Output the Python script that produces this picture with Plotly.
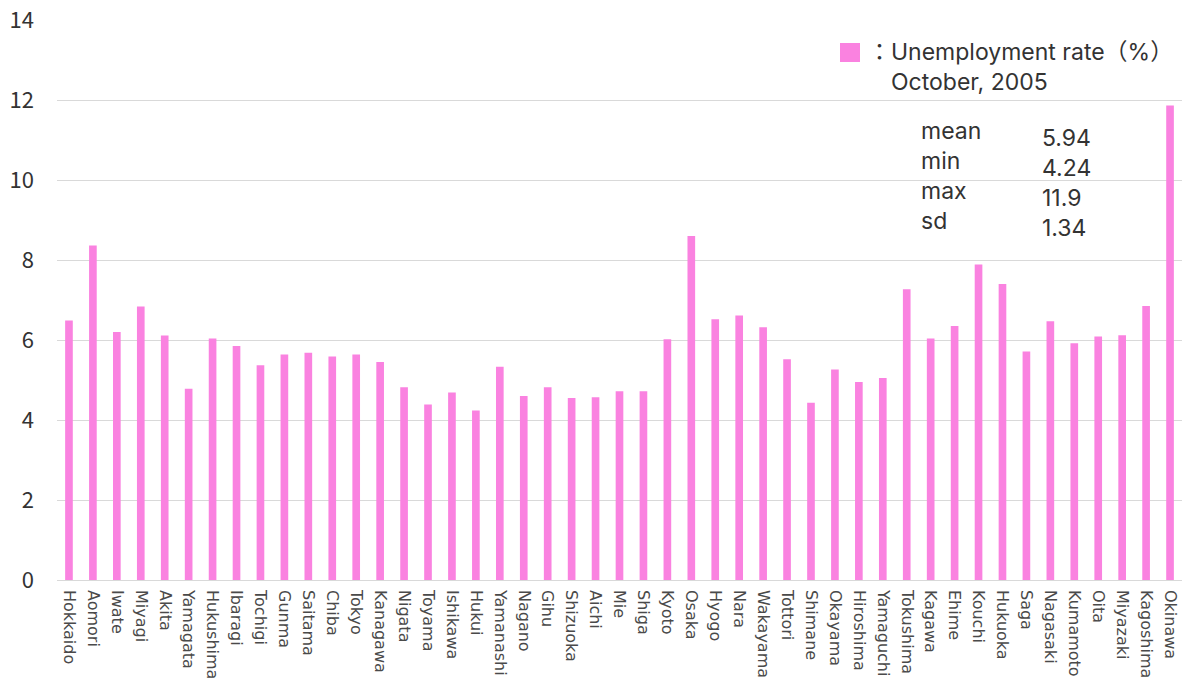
import plotly.graph_objects as go

prefectures = ["Hokkaido", "Aomori", "Iwate", "Miyagi", "Akita", "Yamagata", "Hukushima",
               "Ibaragi", "Tochigi", "Gunma", "Saitama", "Chiba", "Tokyo", "Kanagawa",
               "Nigata", "Toyama", "Ishikawa", "Hukui", "Yamanashi", "Nagano", "Gihu",
               "Shizuoka", "Aichi", "Mie", "Shiga", "Kyoto", "Osaka", "Hyogo", "Nara",
               "Wakayama", "Tottori", "Shimane", "Okayama", "Hiroshima", "Yamaguchi",
               "Tokushima", "Kagawa", "Ehime", "Kouchi", "Hukuoka", "Saga", "Nagasaki",
               "Kumamoto", "Oita", "Miyazaki", "Kagoshima", "Okinawa"]

unemployment = [6.49, 8.36, 6.20, 6.84, 6.11, 4.78, 6.04,
                5.85, 5.37, 5.64, 5.68, 5.59, 5.64, 5.45,
                4.82, 4.39, 4.69, 4.24, 5.33, 4.60, 4.82,
                4.55, 4.57, 4.72, 4.72, 6.02, 8.60, 6.52, 6.61,
                6.32, 5.52, 4.43, 5.26, 4.95, 5.05,
                7.27, 6.04, 6.35, 7.89, 7.40, 5.71, 6.47,
                5.92, 6.09, 6.12, 6.85, 11.86]

stat_names = ["mean", "min", "max", "sd"]
stat_values = ["5.94", "4.24", "11.9", "1.34"]

legend_line1 = "：Unemployment rate（%）"
legend_line2 = "October, 2005"

BAR_COLOR = "#FA82E0"
TEXT_COLOR = "#333333"
FONT = "Noto Sans CJK JP"
ANN_FONT = "Inter, Noto Sans CJK JP"

W, H = 1189, 684
L, R, T, B = 57, 7, 20, 104
PW, PH = W - L - R, H - T - B


def px(x):
    return (x - L) / PW


def py(y):
    return (H - B - y) / PH


fig = go.Figure()
fig.add_trace(go.Bar(x=prefectures, y=unemployment, marker=dict(color=BAR_COLOR, line=dict(width=0)),
                     width=0.32, showlegend=False))

fig.update_layout(
    width=W, height=H,
    margin=dict(l=L, r=R, t=T, b=B),
    paper_bgcolor="white", plot_bgcolor="white",
    font=dict(family=FONT, color=TEXT_COLOR),
    xaxis=dict(tickangle=90, tickfont=dict(family="DejaVu Sans", size=16, color="#4a4a4a"),
               showgrid=False, showline=False, ticks="", zeroline=False,
               automargin=False, ticklabelstandoff=9),
    yaxis=dict(range=[0, 14], dtick=2, tickfont=dict(family=FONT, size=22, color=TEXT_COLOR),
               showgrid=True, gridcolor="#D9D9D9", gridwidth=1, zeroline=True,
               zerolinecolor="#D9D9D9", zerolinewidth=1, ticks="", ticklabelstandoff=22,
               automargin=False),
)

# legend swatch
fig.add_shape(type="rect", xref="paper", yref="paper",
              x0=px(840), x1=px(860), y0=py(62), y1=py(43),
              fillcolor=BAR_COLOR, line=dict(width=0))

annotations = [
    dict(x=px(866), y=py(52), text=legend_line1),
    dict(x=px(889), y=py(82), text=legend_line2),
]
for i, (n, v) in enumerate(zip(stat_names, stat_values)):
    annotations.append(dict(x=px(919), y=py(131 + 30 * i), text=n))
    annotations.append(dict(x=px(1040), y=py(138 + 30 * i), text=v))

for a in annotations:
    fig.add_annotation(xref="paper", yref="paper", showarrow=False, xanchor="left",
                       yanchor="middle", align="left",
                       font=dict(family=ANN_FONT, size=23, color=TEXT_COLOR), **a)

fig.write_html("out.html")
